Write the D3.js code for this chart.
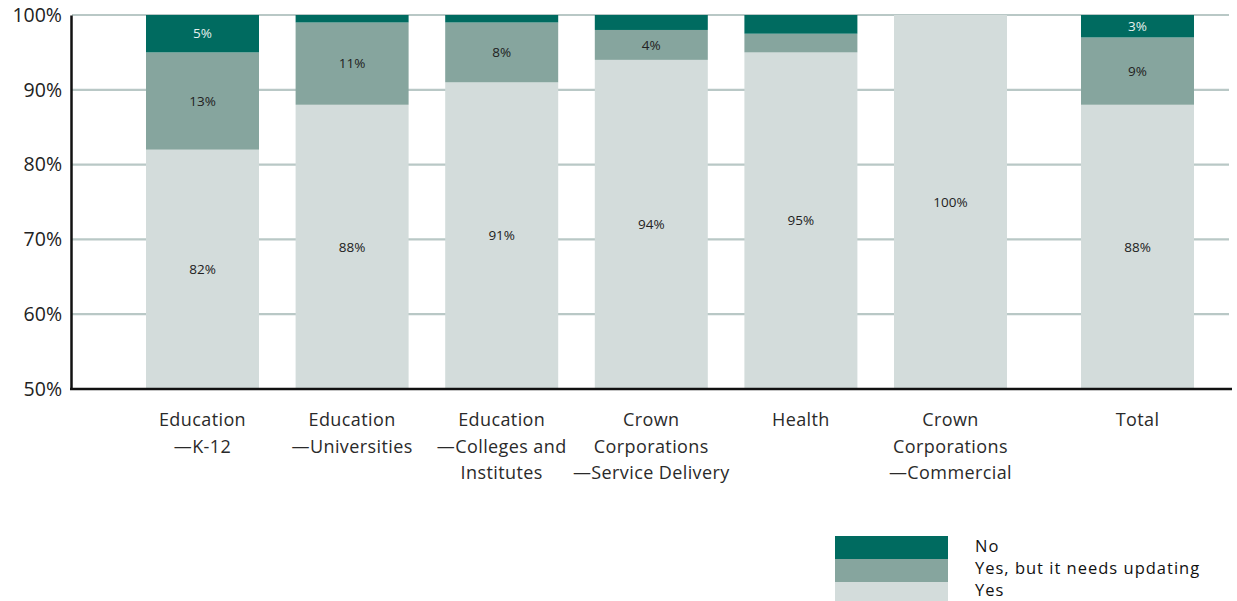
<!DOCTYPE html>
<html>
<head>
<meta charset="utf-8">
<script src="https://cdn.jsdelivr.net/npm/d3@7"></script>
<style>
  html, body { margin: 0; padding: 0; background: #fff; }
  svg { display: block; }
  text { font-family: "Open Sans", Lato, sans-serif; }
</style>
</head>
<body>
<svg id="chart" width="1237" height="601"></svg>
<script>
// Sector categories (each label line listed separately)
const categories = [
  ["Education", "\u2014K-12"],
  ["Education", "\u2014Universities"],
  ["Education", "\u2014Colleges and", "Institutes"],
  ["Crown", "Corporations", "\u2014Service Delivery"],
  ["Health"],
  ["Crown", "Corporations", "\u2014Commercial"],
  ["Total"]
];
// Slot position of each bar along the axis (Total set a little apart)
const slots = [0, 1, 2, 3, 4, 5, 6.25];

// Share of respondents, percent
const yesValues      = [82, 88, 91, 94, 95, 100, 88];
const updatingValues = [13, 11, 8, 4, 2.5, 0, 9];
const noValues       = [5, 1, 1, 2, 2.5, 0, 3];

// Which segments carry a printed value
const yesLabels      = ["82%", "88%", "91%", "94%", "95%", "100%", "88%"];
const updatingLabels = ["13%", "11%", "8%", "4%", "", "", "9%"];
const noLabels       = ["5%", "", "", "", "", "", "3%"];

const yTicks = [50, 60, 70, 80, 90, 100];
const seriesNames = ["No", "Yes, but it needs updating", "Yes"];
const seriesColors = ["#006b60", "#86a59e", "#d3dcdb"];

const svg = d3.select("#chart");
const x = d3.scaleLinear().domain([0, 6.25]).range([202.5, 1137.5]);
const y = d3.scaleLinear().domain([50, 100]).range([389, 15]);
const barW = 113;

// Gridlines
svg.append("g")
  .selectAll("line")
  .data(yTicks.filter(t => t > 50))
  .join("line")
  .attr("x1", 72).attr("x2", 1229)
  .attr("y1", d => y(d)).attr("y2", d => y(d))
  .attr("stroke", "#b9c8c6").attr("stroke-width", 2.2);

// Stacked segments
const stackRows = categories.map((c, i) => ({
  i,
  segs: [
    { key: 2, lo: 50, hi: yesValues[i], label: yesLabels[i] },
    { key: 1, lo: yesValues[i], hi: yesValues[i] + updatingValues[i], label: updatingLabels[i] },
    { key: 0, lo: yesValues[i] + updatingValues[i], hi: yesValues[i] + updatingValues[i] + noValues[i], label: noLabels[i] }
  ].filter(s => s.hi > s.lo)
}));

const barG = svg.append("g")
  .selectAll("g")
  .data(stackRows)
  .join("g")
  .attr("transform", d => `translate(${x(slots[d.i]) - barW / 2},0)`);

barG.selectAll("rect")
  .data(d => d.segs)
  .join("rect")
  .attr("x", 0)
  .attr("width", barW)
  .attr("y", s => y(s.hi))
  .attr("height", s => y(s.lo) - y(s.hi))
  .attr("fill", s => seriesColors[s.key]);

barG.selectAll("text")
  .data(d => d.segs.filter(s => s.label))
  .join("text")
  .attr("x", barW / 2)
  .attr("y", s => (y(s.lo) + y(s.hi)) / 2)
  .attr("dy", "0.35em")
  .attr("text-anchor", "middle")
  .attr("font-size", 13.5)
  .attr("fill", s => s.key === 0 ? "#e6f0ee" : "#222")
  .text(s => s.label);

// Y axis
const yAxis = d3.axisLeft(y).tickValues(yTicks).tickFormat(d => d + "%").tickSize(0).tickPadding(9);
const yg = svg.append("g").attr("transform", "translate(71,0)").call(yAxis);
yg.select(".domain").attr("stroke", "#111").attr("stroke-width", 2.5);
yg.selectAll("text").attr("font-size", 19.5).attr("fill", "#222")
  .style("font-family", "'Open Sans', Lato, sans-serif");

// Baseline
svg.append("line")
  .attr("x1", 70).attr("x2", 1232)
  .attr("y1", y(50)).attr("y2", y(50))
  .attr("stroke", "#111").attr("stroke-width", 2.5);

// Category labels
svg.append("g")
  .selectAll("text")
  .data(categories.map((c, i) => ({ c, i })))
  .join("text")
  .attr("text-anchor", "middle")
  .attr("font-size", 18)
  .attr("letter-spacing", 0.4)
  .attr("fill", "#2a2a2a")
  .attr("transform", d => `translate(${x(slots[d.i])},426)`)
  .selectAll("tspan")
  .data(d => d.c)
  .join("tspan")
  .attr("x", 0)
  .attr("y", (t, j) => j * 26.5)
  .text(t => t);

// Legend
const legend = svg.append("g");
legend.selectAll("rect")
  .data(seriesNames)
  .join("rect")
  .attr("x", 835).attr("width", 113)
  .attr("y", (d, i) => 536 + i * 23)
  .attr("height", 23)
  .attr("fill", (d, i) => seriesColors[i]);
legend.selectAll("text")
  .data(seriesNames)
  .join("text")
  .attr("x", 975)
  .attr("y", (d, i) => 546 + i * 22)
  .attr("dy", "0.35em")
  .attr("font-size", 16.5)
  .attr("letter-spacing", 1)
  .attr("fill", "#111")
  .text(d => d);
</script>
</body>
</html>
